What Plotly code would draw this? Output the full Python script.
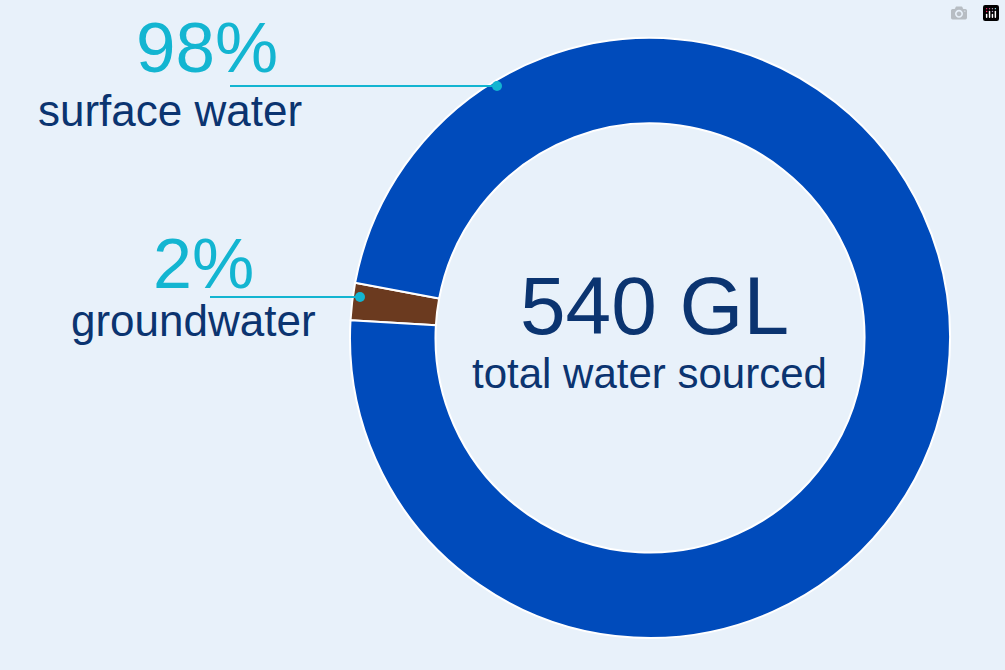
import plotly.graph_objects as go

labels = ["groundwater", "surface water"]
values = [2, 98]
colors = ["#6B3A1F", "#004BBB"]
center_value = "540 GL"
center_label = "total water sourced"

W, H = 1005, 670
def px(x): return x / W
def py(y): return 1 - y / H

fig = go.Figure(go.Pie(
    labels=labels, values=values, hole=0.715, sort=False,
    direction="clockwise", rotation=273.4,
    marker=dict(colors=colors, line=dict(color="white", width=2)),
    textinfo="none", hoverinfo="label+percent",
    domain=dict(x=[px(350), px(950)], y=[py(638), py(38)]),
))

cyan = "#13B5D1"; navy = "#0B3470"
font = "Liberation Sans, Arial, sans-serif"
ann = [
    (207, 48, "98%", 71, cyan),
    (170, 110, "surface water", 44, navy),
    (203, 264, "2%", 70, cyan),
    (193, 320, "groundwater", 44, navy),
    (654, 305, center_value, 82, navy),
    (649, 373, center_label, 42, navy),
]
for x, y, t, s, c in ann:
    fig.add_annotation(x=px(x), y=py(y), xref="paper", yref="paper", text=t,
                       showarrow=False, font=dict(size=s, color=c, family=font),
                       xanchor="center", yanchor="middle")

for x0, x1, y in [(230, 497, 86), (210, 360, 297)]:
    fig.add_shape(type="line", xref="paper", yref="paper", x0=px(x0), x1=px(x1),
                  y0=py(y), y1=py(y), line=dict(color=cyan, width=2))
    fig.add_shape(type="circle", xref="paper", yref="paper", x0=px(x1-5), x1=px(x1+5),
                  y0=py(y+5), y1=py(y-5), fillcolor=cyan, line=dict(width=0))

fig.update_layout(width=W, height=H, margin=dict(l=0, r=0, t=0, b=0),
                  paper_bgcolor="#E8F1FA", plot_bgcolor="#E8F1FA", showlegend=False)
fig.write_html("out.html", post_script="document.body.style.margin='0';document.body.style.background='#E8F1FA';")
